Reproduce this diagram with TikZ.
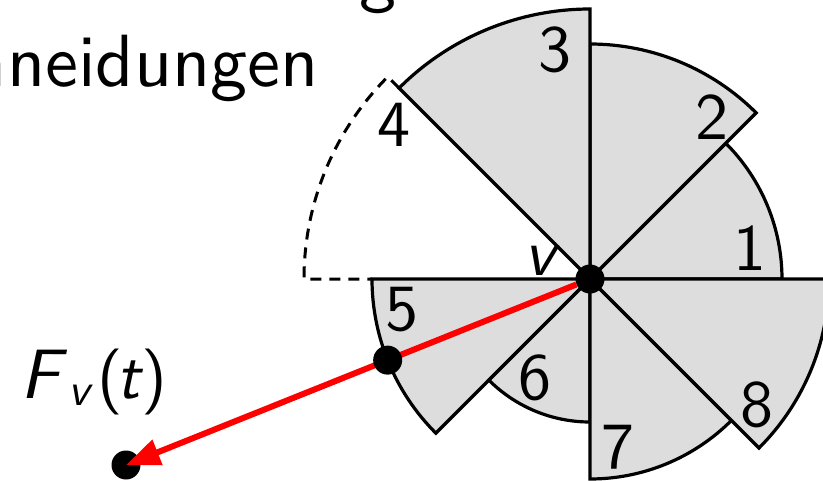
\documentclass[tikz,border=0pt]{standalone}
\usepackage{fontspec}
\newfontfamily\lmsten{lmsans10-regular.otf}[ItalicFont=lmsans10-oblique.otf]
\usetikzlibrary{arrows.meta}
\definecolor{secgray}{RGB}{221,221,221}
\definecolor{arrred}{RGB}{255,0,0}
\begin{document}
\begin{tikzpicture}[x=1pt,y=1pt,
  sector/.style={fill=secgray, draw=black, line width=3.2pt, line join=miter},
  ghost/.style={draw=black, line width=3pt, dash pattern=on 11pt off 8pt},
  dot/.style={circle, fill=black, inner sep=0pt, minimum size=29pt},
  num/.style={inner sep=0pt, font=\fontsize{66}{66}\selectfont\lmsten},
  ttl/.style={inner sep=0pt, font=\fontsize{74}{74}\selectfont\lmsten},
  force/.style={draw=arrred, line width=6pt, -{Triangle[length=34pt,width=26pt]}}]
\useasboundingbox (0,-480) rectangle (823,0);
\clip (0,-480) rectangle (823,0);
\coordinate (c) at (590,-279);
% title fragments
\node[ttl, anchor=base east] (title) at (319,-86) {hneidungen};
\node[ttl, anchor=base] (gtop) at (378,2) {g};
% dashed (missing) sector 4
\draw[ghost] ([shift={(135:270)}]c) -- ([shift={(135:286)}]c)
  arc[start angle=135, end angle=180, radius=286] -- ([shift={(180:218)}]c);
% sectors
\filldraw[sector] (c) -- +(0:192) arc[start angle=0, end angle=45, radius=192] -- cycle;
\filldraw[sector] (c) -- +(45:235) arc[start angle=45, end angle=90, radius=235] -- cycle;
\filldraw[sector] (c) -- +(90:270) arc[start angle=90, end angle=135, radius=270] -- cycle;
\filldraw[sector] (c) -- +(180:218) arc[start angle=180, end angle=225, radius=218] -- cycle;
\filldraw[sector] (c) -- +(225:143) arc[start angle=225, end angle=270, radius=143] -- cycle;
\filldraw[sector] (c) -- +(270:200) arc[start angle=270, end angle=315, radius=200] -- cycle;
\filldraw[sector] (c) -- +(315:239) arc[start angle=315, end angle=360, radius=239] -- cycle;
% labels
\node[num] (l1) at (750,-248) {1};
\node[num] (l2) at (712,-117) {2};
\node[num] (l3) at (555,-50) {3};
\node[num] (l4) at (394,-125) {4};
\node[num] (l5) at (402,-310) {5};
\node[num] (l6) at (535,-378) {6};
\node[num] (l7) at (618,-447) {7};
\node[num] (l8) at (757,-405) {8};
\node[num, font=\fontsize{66}{66}\selectfont\lmsten\itshape] (lv) at (540,-261) {v};
\node[inner sep=0pt, anchor=base west, font=\fontsize{66}{66}\selectfont\lmsten] (lf) at (20,-398)
  {{\fontsize{70}{70}\selectfont\itshape F}\kern8pt\raisebox{-7pt}{\fontsize{46}{46}\selectfont\itshape v}\kern8pt(\kern-6pt{\itshape t}\kern1pt)};
% force
\node[dot] (e) at (126,-465) {};
\node[dot] (v) at (c) {};
\draw[force] (v) -- (e.center);
\node[dot] (m) at ([shift={(201.85:218)}]c) {};
\end{tikzpicture}
\end{document}
